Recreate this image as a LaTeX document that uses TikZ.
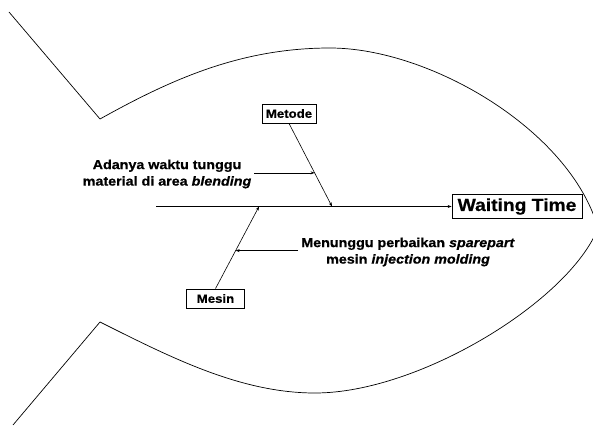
\documentclass[tikz,border=0pt]{standalone}
\usepackage{fontspec}
\setmainfont{Liberation Sans}[FakeStretch=1.1, BoldFeatures={FakeBold=0.6}, BoldItalicFeatures={FakeBold=0.6}]
\usetikzlibrary{arrows.meta,calc}
\begin{document}
\begin{tikzpicture}[x=1pt,y=-1pt,
  box/.style={draw, line width=0.8pt, inner sep=0pt, font=\bfseries\fontsize{12}{14}\selectfont, minimum height=19pt},
  lbl/.style={align=center, font=\bfseries\fontsize{13}{16.5}\selectfont, inner sep=3pt},
  arr/.style={-{Stealth[length=4pt,width=3pt]}, line width=0.6pt},
  fish/.style={line width=0.7pt}]
\useasboundingbox (0,0) rectangle (593,425);
\clip (0,0) rectangle (593,425);
% fish outline
\draw[fish] (9,12) -- (100,119)
  .. controls (170,80) and (240,48) .. (330,48)
  .. controls (430,48) and (570,130) .. (598,228);
\draw[fish] (13,425) -- (100,322)
  .. controls (170,357) and (240,393) .. (315,393)
  .. controls (420,393) and (570,300) .. (598,228);
% nodes
\node[box, minimum width=130pt, minimum height=24pt, font=\bfseries\fontsize{17.5}{20}\selectfont] (wt) at (517,206.5) {Waiting Time};
\node[box, minimum width=54pt] (metode) at (289,113.5) {Metode};
\node[box, minimum width=58pt] (mesin) at (215.5,298.5) {Mesin};
\node[lbl] (blend) at (167,174) {Adanya waktu tunggu\\material di area \textit{blending}};
\node[lbl] (spare) at (408,252) {Menunggu perbaikan \textit{sparepart}\\mesin \textit{injection molding}};
% spine and bones
\coordinate (tail) at (156,206.5);
\coordinate (mS) at (332,206.5);
\coordinate (nS) at (259,206.5);
\draw[arr, line width=0.8pt] (tail) -- (wt.west);
\draw[arr] (metode.south) -- (mS);
\draw[arr] (mesin.north) -- (nS);
\coordinate (mB) at ($(metode.south)!0.595!(mS)$);
\coordinate (mN) at ($(mesin.north)!0.463!(nS)$);
\draw[arr] (blend.east |- mB) -- (mB);
\draw[arr] (spare.west |- mN) -- (mN);
\end{tikzpicture}
\end{document}
